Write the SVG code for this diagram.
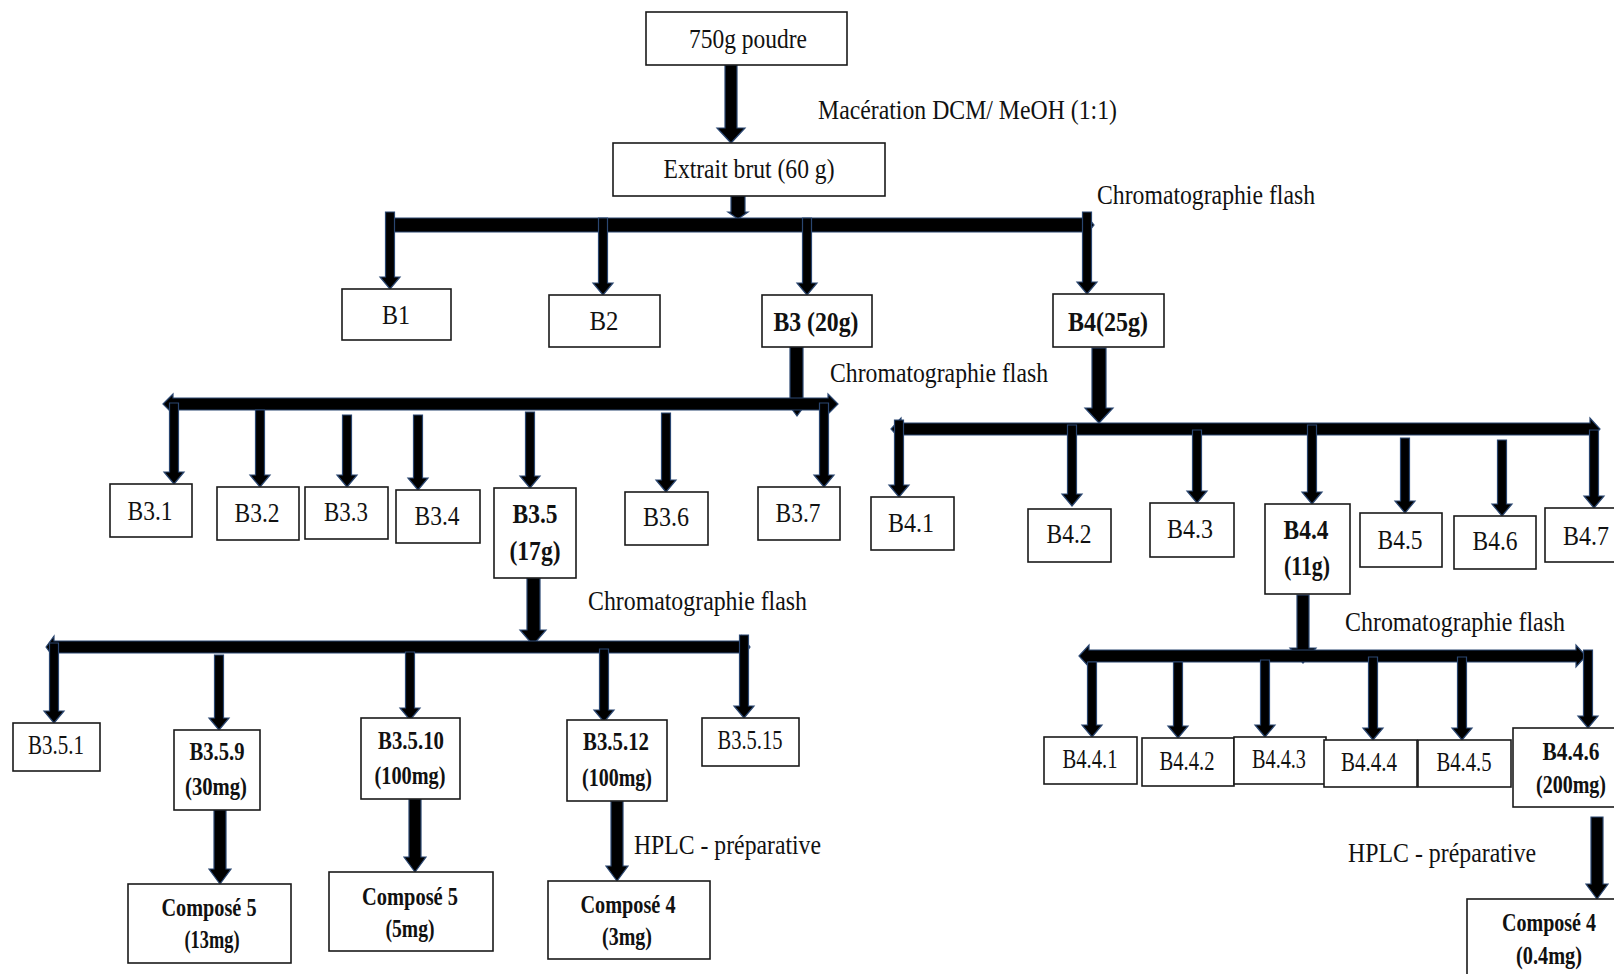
<svg xmlns="http://www.w3.org/2000/svg" width="1614" height="974" viewBox="0 0 1614 974">
<style>
.bg{fill:#ffffff}
.box{fill:#ffffff;stroke:#1a1a1a;stroke-width:1.6}
.t{font-family:"Liberation Serif","Times New Roman",serif;font-size:27px;fill:#111111}
.m{text-anchor:middle}
.b{font-weight:bold}
.s{font-size:25px}
.ar{fill:#000000;stroke:#2a4670;stroke-width:1.2;stroke-linejoin:miter}
</style>
<rect class="bg" x="0" y="0" width="1614" height="974"/>

<g id="connectors">
  <path class="ar" d="M725 65 H737 V128 H745 L731 143 L717 128 H725 Z"/>
  <path class="ar" d="M731 196 H745 V212 H748 L738 219 L728 212 H731 Z"/>
  <path class="ar" d="M790 347 H803 V401 H808 L797 416 L786 401 H790 Z"/>
  <path class="ar" d="M1092 348 H1106 V408 H1113 L1099 423 L1085 408 H1092 Z"/>
  <path class="ar" d="M527 578 H540 V630 H546 L533 645 L520 630 H527 Z"/>
  <path class="ar" d="M1297 595 H1309 V648 H1316 L1303 663 L1290 648 H1297 Z"/>
  <path class="ar" d="M214 810 H226 V869 H231 L220 884 L209 869 H214 Z"/>
  <path class="ar" d="M409 799 H421 V857 H426 L415 872 L404 857 H409 Z"/>
  <path class="ar" d="M611 801 H623 V866 H628 L617 881 L606 866 H611 Z"/>
  <path class="ar" d="M1591 817 H1603 V884 H1608 L1597 899 L1586 884 H1591 Z"/>

  <path class="ar" d="M386 225 L394 215 V218 H1086 V215 L1094 225 L1086 235 V232 H394 V235 Z"/>
  <path class="ar" d="M163 404 L173 394 V398 H828 V394 L838 404 L828 414 V410 H173 V414 Z"/>
  <path class="ar" d="M891 429 L901 418 V423 H1590 V418 L1600 429 L1590 440 V435 H901 V440 Z"/>
  <path class="ar" d="M46 647 L54 636 V641 H742 V636 L750 647 L742 658 V653 H54 V658 Z"/>
  <path class="ar" d="M1079 656 L1089 645 V650 H1576 V645 L1586 656 L1576 667 V662 H1089 V667 Z"/>

  <path class="ar" d="M385.5 212 H394.5 V277 H400 L390 289 L380 277 H385.5 Z"/>
  <path class="ar" d="M598.5 218 H607.5 V283 H613 L603 295 L593 283 H598.5 Z"/>
  <path class="ar" d="M802.5 218 H811.5 V283 H817 L807 295 L797 283 H802.5 Z"/>
  <path class="ar" d="M1082.5 212 H1091.5 V282 H1097 L1087 294 L1077 282 H1082.5 Z"/>

  <path class="ar" d="M169.5 403 H178.5 V472 H184 L174 484 L164 472 H169.5 Z"/>
  <path class="ar" d="M255.5 410 H264.5 V475 H270 L260 487 L250 475 H255.5 Z"/>
  <path class="ar" d="M342.5 415 H351.5 V475 H357 L347 487 L337 475 H342.5 Z"/>
  <path class="ar" d="M413.5 415 H422.5 V478 H428 L418 490 L408 478 H413.5 Z"/>
  <path class="ar" d="M525.5 412 H534.5 V476 H540 L530 488 L520 476 H525.5 Z"/>
  <path class="ar" d="M661.5 413 H670.5 V480 H676 L666 492 L656 480 H661.5 Z"/>
  <path class="ar" d="M819.5 403 H828.5 V475 H834 L824 487 L814 475 H819.5 Z"/>

  <path class="ar" d="M894.5 420 H903.5 V485 H909 L899 497 L889 485 H894.5 Z"/>
  <path class="ar" d="M1067.5 425 H1076.5 V494 H1082 L1072 506 L1062 494 H1067.5 Z"/>
  <path class="ar" d="M1192.5 430 H1201.5 V491 H1207 L1197 503 L1187 491 H1192.5 Z"/>
  <path class="ar" d="M1307.5 425 H1316.5 V492 H1322 L1312 504 L1302 492 H1307.5 Z"/>
  <path class="ar" d="M1400.5 438 H1409.5 V501 H1415 L1405 513 L1395 501 H1400.5 Z"/>
  <path class="ar" d="M1497.5 440 H1506.5 V504 H1512 L1502 516 L1492 504 H1497.5 Z"/>
  <path class="ar" d="M1589.5 430 H1598.5 V496 H1604 L1594 508 L1584 496 H1589.5 Z"/>

  <path class="ar" d="M49.5 643 H58.5 V711 H64 L54 723 L44 711 H49.5 Z"/>
  <path class="ar" d="M214.5 655 H223.5 V718 H229 L219 730 L209 718 H214.5 Z"/>
  <path class="ar" d="M405.5 652 H414.5 V708 H420 L410 720 L400 708 H405.5 Z"/>
  <path class="ar" d="M599.5 649 H608.5 V710 H614 L604 722 L594 710 H599.5 Z"/>
  <path class="ar" d="M739.5 635 H748.5 V706 H754 L744 718 L734 706 H739.5 Z"/>

  <path class="ar" d="M1087.5 662 H1096.5 V725 H1102 L1092 737 L1082 725 H1087.5 Z"/>
  <path class="ar" d="M1173.5 662 H1182.5 V726 H1188 L1178 738 L1168 726 H1173.5 Z"/>
  <path class="ar" d="M1260.5 660 H1269.5 V725 H1275 L1265 737 L1255 725 H1260.5 Z"/>
  <path class="ar" d="M1368.5 657 H1377.5 V728 H1383 L1373 740 L1363 728 H1368.5 Z"/>
  <path class="ar" d="M1457.5 657 H1466.5 V728 H1472 L1462 740 L1452 728 H1457.5 Z"/>
  <path class="ar" d="M1583.5 650 H1592.5 V716 H1598 L1588 728 L1578 716 H1583.5 Z"/>
</g>

<g id="labels">
  <text class="t" x="818" y="119" textLength="299" lengthAdjust="spacingAndGlyphs">Macération DCM/ MeOH (1:1)</text>
  <text class="t" x="1097" y="204" textLength="218" lengthAdjust="spacingAndGlyphs">Chromatographie flash</text>
  <text class="t" x="830" y="382" textLength="218" lengthAdjust="spacingAndGlyphs">Chromatographie flash</text>
  <text class="t" x="588" y="610" textLength="219" lengthAdjust="spacingAndGlyphs">Chromatographie flash</text>
  <text class="t" x="1345" y="631" textLength="220" lengthAdjust="spacingAndGlyphs">Chromatographie flash</text>
  <text class="t" x="634" y="854" textLength="187" lengthAdjust="spacingAndGlyphs">HPLC - préparative</text>
  <text class="t" x="1348" y="862" textLength="188" lengthAdjust="spacingAndGlyphs">HPLC - préparative</text>
</g>

<g id="n750"><rect class="box" x="646" y="12" width="201" height="53"/><text class="t m" x="748" y="48" textLength="118" lengthAdjust="spacingAndGlyphs">750g poudre</text></g>
<g id="extrait"><rect class="box" x="613" y="143" width="272" height="53"/><text class="t m" x="749" y="178" textLength="171" lengthAdjust="spacingAndGlyphs">Extrait brut (60 g)</text></g>

<g id="B1"><rect class="box" x="342" y="289" width="109" height="51"/><text class="t m" x="396" y="324" textLength="28" lengthAdjust="spacingAndGlyphs">B1</text></g>
<g id="B2"><rect class="box" x="549" y="295" width="111" height="52"/><text class="t m" x="604" y="330" textLength="29" lengthAdjust="spacingAndGlyphs">B2</text></g>
<g id="B3"><rect class="box" x="762" y="295" width="110" height="52"/><text class="t m b" x="816" y="331" textLength="85" lengthAdjust="spacingAndGlyphs">B3 (20g)</text></g>
<g id="B4"><rect class="box" x="1053" y="294" width="111" height="53"/><text class="t m b" x="1108" y="331" textLength="80" lengthAdjust="spacingAndGlyphs">B4(25g)</text></g>

<g id="B3_1"><rect class="box" x="110" y="484" width="82" height="53"/><text class="t m" x="150" y="520" textLength="45" lengthAdjust="spacingAndGlyphs">B3.1</text></g>
<g id="B3_2"><rect class="box" x="217" y="487" width="82" height="53"/><text class="t m" x="257" y="522" textLength="45" lengthAdjust="spacingAndGlyphs">B3.2</text></g>
<g id="B3_3"><rect class="box" x="305" y="487" width="83" height="52"/><text class="t m" x="346" y="521" textLength="44" lengthAdjust="spacingAndGlyphs">B3.3</text></g>
<g id="B3_4"><rect class="box" x="396" y="490" width="84" height="53"/><text class="t m" x="437" y="525" textLength="45" lengthAdjust="spacingAndGlyphs">B3.4</text></g>
<g id="B3_5"><rect class="box" x="494" y="488" width="82" height="90"/><text class="t m b" x="535" y="523" textLength="45" lengthAdjust="spacingAndGlyphs">B3.5</text><text class="t m b" x="535" y="560" textLength="51" lengthAdjust="spacingAndGlyphs">(17g)</text></g>
<g id="B3_6"><rect class="box" x="625" y="492" width="83" height="53"/><text class="t m" x="666" y="526" textLength="46" lengthAdjust="spacingAndGlyphs">B3.6</text></g>
<g id="B3_7"><rect class="box" x="758" y="487" width="82" height="53"/><text class="t m" x="798" y="522" textLength="45" lengthAdjust="spacingAndGlyphs">B3.7</text></g>

<g id="B4_1"><rect class="box" x="871" y="497" width="83" height="53"/><text class="t m" x="911" y="532" textLength="46" lengthAdjust="spacingAndGlyphs">B4.1</text></g>
<g id="B4_2"><rect class="box" x="1028" y="509" width="83" height="53"/><text class="t m" x="1069" y="543" textLength="45" lengthAdjust="spacingAndGlyphs">B4.2</text></g>
<g id="B4_3"><rect class="box" x="1150" y="503" width="84" height="54"/><text class="t m" x="1190" y="538" textLength="46" lengthAdjust="spacingAndGlyphs">B4.3</text></g>
<g id="B4_4"><rect class="box" x="1265" y="504" width="85" height="90"/><text class="t m b" x="1306" y="539" textLength="45" lengthAdjust="spacingAndGlyphs">B4.4</text><text class="t m b" x="1307" y="575" textLength="46" lengthAdjust="spacingAndGlyphs">(11g)</text></g>
<g id="B4_5"><rect class="box" x="1360" y="513" width="82" height="54"/><text class="t m" x="1400" y="549" textLength="45" lengthAdjust="spacingAndGlyphs">B4.5</text></g>
<g id="B4_6"><rect class="box" x="1454" y="516" width="82" height="53"/><text class="t m" x="1495" y="550" textLength="45" lengthAdjust="spacingAndGlyphs">B4.6</text></g>
<g id="B4_7"><rect class="box" x="1545" y="508" width="85" height="54"/><text class="t m" x="1586" y="545" textLength="46" lengthAdjust="spacingAndGlyphs">B4.7</text></g>

<g id="B3_5_1"><rect class="box" x="13" y="723" width="87" height="48"/><text class="t m" x="56" y="754" textLength="56" lengthAdjust="spacingAndGlyphs">B3.5.1</text></g>
<g id="B3_5_9"><rect class="box" x="174" y="730" width="86" height="80"/><text class="t m b s" x="217" y="760" textLength="55" lengthAdjust="spacingAndGlyphs">B3.5.9</text><text class="t m b s" x="216" y="795" textLength="62" lengthAdjust="spacingAndGlyphs">(30mg)</text></g>
<g id="B3_5_10"><rect class="box" x="361" y="718" width="99" height="81"/><text class="t m b s" x="411" y="749" textLength="66" lengthAdjust="spacingAndGlyphs">B3.5.10</text><text class="t m b s" x="410" y="784" textLength="71" lengthAdjust="spacingAndGlyphs">(100mg)</text></g>
<g id="B3_5_12"><rect class="box" x="567" y="720" width="100" height="81"/><text class="t m b s" x="616" y="750" textLength="66" lengthAdjust="spacingAndGlyphs">B3.5.12</text><text class="t m b s" x="617" y="786" textLength="70" lengthAdjust="spacingAndGlyphs">(100mg)</text></g>
<g id="B3_5_15"><rect class="box" x="702" y="718" width="97" height="48"/><text class="t m" x="750" y="749" textLength="65" lengthAdjust="spacingAndGlyphs">B3.5.15</text></g>

<g id="C5a"><rect class="box" x="128" y="884" width="163" height="79"/><text class="t m b s" x="209" y="916" textLength="95" lengthAdjust="spacingAndGlyphs">Composé 5</text><text class="t m b s" x="212" y="948" textLength="55" lengthAdjust="spacingAndGlyphs">(13mg)</text></g>
<g id="C5b"><rect class="box" x="329" y="872" width="164" height="79"/><text class="t m b s" x="410" y="905" textLength="96" lengthAdjust="spacingAndGlyphs">Composé 5</text><text class="t m b s" x="410" y="937" textLength="49" lengthAdjust="spacingAndGlyphs">(5mg)</text></g>
<g id="C4a"><rect class="box" x="548" y="881" width="162" height="78"/><text class="t m b s" x="628" y="913" textLength="95" lengthAdjust="spacingAndGlyphs">Composé 4</text><text class="t m b s" x="627" y="945" textLength="50" lengthAdjust="spacingAndGlyphs">(3mg)</text></g>

<g id="B4_4_1"><rect class="box" x="1044" y="737" width="93" height="47"/><text class="t m" x="1090" y="768" textLength="55" lengthAdjust="spacingAndGlyphs">B4.4.1</text></g>
<g id="B4_4_2"><rect class="box" x="1142" y="738" width="92" height="48"/><text class="t m" x="1187" y="770" textLength="55" lengthAdjust="spacingAndGlyphs">B4.4.2</text></g>
<g id="B4_4_3"><rect class="box" x="1234" y="737" width="92" height="47"/><text class="t m" x="1279" y="768" textLength="54" lengthAdjust="spacingAndGlyphs">B4.4.3</text></g>
<g id="B4_4_4"><rect class="box" x="1324" y="740" width="93" height="47"/><text class="t m" x="1369" y="771" textLength="56" lengthAdjust="spacingAndGlyphs">B4.4.4</text></g>
<g id="B4_4_5"><rect class="box" x="1418" y="740" width="93" height="47"/><text class="t m" x="1464" y="771" textLength="55" lengthAdjust="spacingAndGlyphs">B4.4.5</text></g>
<g id="B4_4_6"><rect class="box" x="1513" y="728" width="115" height="79"/><text class="t m b s" x="1571" y="760" textLength="57" lengthAdjust="spacingAndGlyphs">B4.4.6</text><text class="t m b s" x="1571" y="793" textLength="70" lengthAdjust="spacingAndGlyphs">(200mg)</text></g>
<g id="C4b"><rect class="box" x="1467" y="899" width="165" height="90"/><text class="t m b s" x="1549" y="931" textLength="94" lengthAdjust="spacingAndGlyphs">Composé 4</text><text class="t m b s" x="1549" y="964" textLength="66" lengthAdjust="spacingAndGlyphs">(0.4mg)</text></g>
</svg>
